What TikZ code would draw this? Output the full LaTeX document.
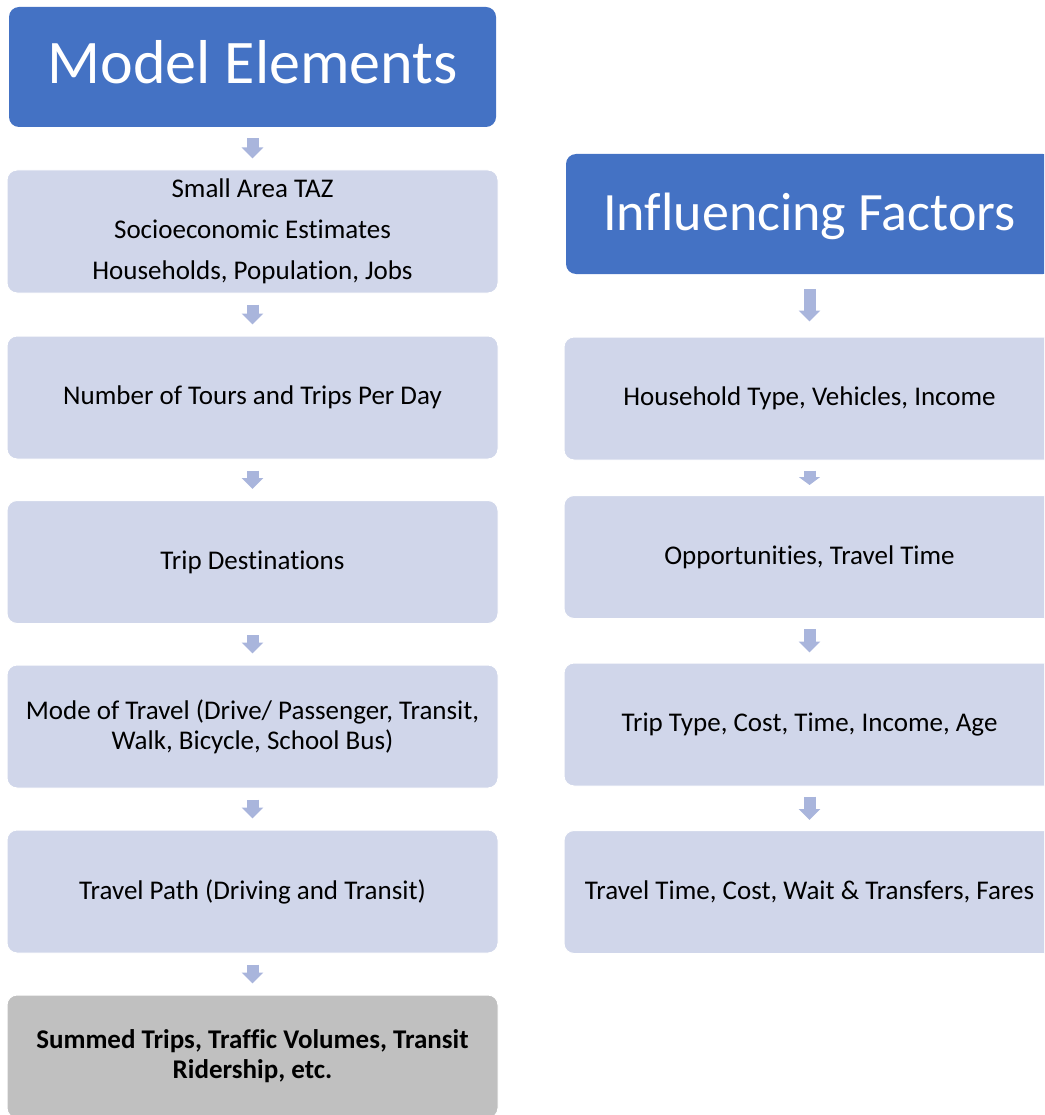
\documentclass[tikz,border=0pt]{standalone}
\usepackage{fontspec}
\setmainfont{Carlito}[Ligatures=NoCommon]
\usetikzlibrary{arrows.meta}

\definecolor{titleblue}{HTML}{4472C4}
\definecolor{boxfill}{HTML}{D0D6EA}
\definecolor{sumgray}{HTML}{C0C0C0}
\definecolor{arrowblue}{HTML}{A9B5DC}

\begin{document}
\begin{tikzpicture}
    [x=1pt, y=-1pt,
    title/.style={rounded corners=10pt, fill=titleblue, text=white, inner sep=0pt,
        minimum width=487pt, minimum height=120pt, text height=34pt, text depth=0pt,
        font=\fontsize{62}{70}\selectfont},
    box/.style={rounded corners=10pt, draw=white, line width=1pt, fill=boxfill, inner sep=0pt,
        minimum width=491pt, minimum height=123pt, align=center,
        font=\fontsize{27}{30}\selectfont},
    flow/.style={draw=arrowblue, line width=12pt, -{Triangle[width=21pt,length=11pt]},
        shorten <=11pt, shorten >=11pt}]

    \clip (0,0) rectangle (1044,1115);

    % model elements
    \node[title] (A) at (252.5,67) {Model Elements};
    \node[box] (B) at (252.5,231.5) {Small Area TAZ\\[11pt]Socioeconomic Estimates\\[11pt]Households, Population, Jobs};
    \node[box] (C) at (252.5,397.5) {Number of Tours and Trips Per Day};
    \node[box] (D) at (252.5,562) {Trip Destinations};
    \node[box] (E) at (252.5,726.5) {Mode of Travel (Drive/ Passenger, Transit,\\Walk, Bicycle, School Bus)};
    \node[box] (F) at (252.5,891.5) {Travel Path (Driving and Transit)};
    \node[box, fill=sumgray, font=\fontsize{27}{30}\selectfont\bfseries] (G) at (252.5,1056.5)
        {Summed Trips, Traffic Volumes, Transit\\Ridership, etc.};

    % influencing factors
    \node[title, text height=32pt, font=\fontsize{54}{60}\selectfont] (H) at (809.5,214) {Influencing Factors};
    \node[box] (I) at (809.5,398.5) {Household Type, Vehicles, Income};
    \node[box] (J) at (809.5,557) {Opportunities, Travel Time};
    \node[box] (K) at (809.5,724.5) {Trip Type, Cost, Time, Income, Age};
    \node[box] (L) at (809.5,892) {Travel Time, Cost, Wait \& Transfers, Fares};

    \foreach \a/\b in {A/B,B/C,C/D,D/E,E/F,F/G}
        \draw[flow] (\a) -- (\b);
    \foreach \a/\b in {J/K,K/L}
        \draw[flow, shorten <=10pt, shorten >=10pt] (\a) -- (\b);
    \draw[flow, shorten <=15pt, shorten >=15pt] (H) -- (I);
    \draw[flow, -{Triangle[width=21pt,length=8pt]}, shorten <=10pt, shorten >=10pt] (I) -- (J);

\end{tikzpicture}
\end{document}
